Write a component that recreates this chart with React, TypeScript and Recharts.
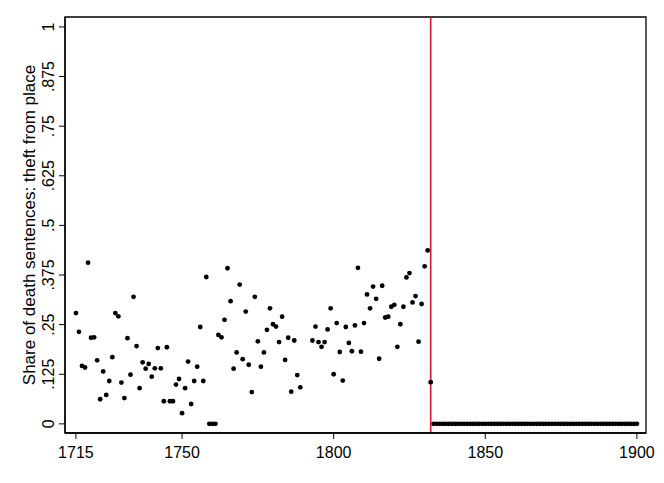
import {
  ScatterChart,
  Scatter,
  XAxis,
  YAxis,
  ReferenceLine,
  ReferenceArea,
} from "recharts";

// years with an observation (1790-1792 have none)
const years = [
  1715, 1716, 1717, 1718, 1719, 1720, 1721, 1722, 1723, 1724, 1725, 1726, 1727, 1728, 1729,
  1730, 1731, 1732, 1733, 1734, 1735, 1736, 1737, 1738, 1739, 1740, 1741, 1742, 1743, 1744,
  1745, 1746, 1747, 1748, 1749, 1750, 1751, 1752, 1753, 1754, 1755, 1756, 1757, 1758, 1759,
  1760, 1761, 1762, 1763, 1764, 1765, 1766, 1767, 1768, 1769, 1770, 1771, 1772, 1773, 1774,
  1775, 1776, 1777, 1778, 1779, 1780, 1781, 1782, 1783, 1784, 1785, 1786, 1787, 1788, 1789,
  1793, 1794, 1795, 1796, 1797, 1798, 1799, 1800, 1801, 1802, 1803, 1804, 1805, 1806, 1807,
  1808, 1809, 1810, 1811, 1812, 1813, 1814, 1815, 1816, 1817, 1818, 1819, 1820, 1821, 1822,
  1823, 1824, 1825, 1826, 1827, 1828, 1829, 1830, 1831, 1832, 1833, 1834, 1835, 1836, 1837,
  1838, 1839, 1840, 1841, 1842, 1843, 1844, 1845, 1846, 1847, 1848, 1849, 1850, 1851, 1852,
  1853, 1854, 1855, 1856, 1857, 1858, 1859, 1860, 1861, 1862, 1863, 1864, 1865, 1866, 1867,
  1868, 1869, 1870, 1871, 1872, 1873, 1874, 1875, 1876, 1877, 1878, 1879, 1880, 1881, 1882,
  1883, 1884, 1885, 1886, 1887, 1888, 1889, 1890, 1891, 1892, 1893, 1894, 1895, 1896, 1897,
  1898, 1899, 1900,
];

// share of death sentences for theft from place, same order as years
const shares = [
  0.279, 0.232, 0.146, 0.142, 0.406, 0.217, 0.218, 0.16, 0.062, 0.132, 0.073, 0.108, 0.168, 0.279, 0.271,
  0.104, 0.065, 0.216, 0.124, 0.32, 0.196, 0.09, 0.155, 0.139, 0.151, 0.119, 0.14, 0.191, 0.14, 0.057,
  0.193, 0.057, 0.057, 0.099, 0.113, 0.027, 0.09, 0.157, 0.05, 0.108, 0.144, 0.244, 0.108, 0.37, 0,
  0, 0, 0.224, 0.218, 0.262, 0.392, 0.309, 0.139, 0.18, 0.351, 0.163, 0.283, 0.149, 0.08, 0.32,
  0.208, 0.144, 0.18, 0.237, 0.291, 0.251, 0.245, 0.206, 0.27, 0.161, 0.217, 0.081, 0.21, 0.123, 0.092,
  0.21, 0.245, 0.206, 0.194, 0.206, 0.238, 0.291, 0.125, 0.254, 0.181, 0.109, 0.244, 0.204, 0.183, 0.248,
  0.393, 0.182, 0.254, 0.326, 0.291, 0.346, 0.315, 0.164, 0.348, 0.268, 0.27, 0.295, 0.3, 0.194, 0.251,
  0.295, 0.369, 0.38, 0.306, 0.322, 0.207, 0.302, 0.397, 0.437, 0.105, 0, 0, 0, 0, 0,
  0, 0, 0, 0, 0, 0, 0, 0, 0, 0, 0, 0, 0, 0, 0,
  0, 0, 0, 0, 0, 0, 0, 0, 0, 0, 0, 0, 0, 0, 0,
  0, 0, 0, 0, 0, 0, 0, 0, 0, 0, 0, 0, 0, 0, 0,
  0, 0, 0, 0, 0, 0, 0, 0, 0, 0, 0, 0, 0, 0, 0,
  0, 0, 0,
];

const xTicks = [1715, 1750, 1800, 1850, 1900];
const yTicks = [0, 0.125, 0.25, 0.375, 0.5, 0.625, 0.75, 0.875, 1];
const breakYear = 1832;

const FONT = "'Liberation Sans', Arial, Helvetica, sans-serif";
const X_DOMAIN = [1711.4, 1903];
const Y_DOMAIN = [-0.023, 1.025];

const fmtShare = (v: number) => (v === 0 || v === 1 ? String(v) : String(v).replace(/^0/, ""));

const YTick = (props: any) => {
  const { x, y, payload } = props;
  const tx = x - 3;
  return (
    <text
      x={tx}
      y={y}
      transform={`rotate(-90 ${tx} ${y})`}
      textAnchor="middle"
      fontFamily={FONT}
      fontSize={16}
      fill="#000"
    >
      {fmtShare(payload.value)}
    </text>
  );
};

const YTitle = (props: any) => {
  const { viewBox } = props;
  const tx = viewBox.x + 10;
  const ty = viewBox.y + viewBox.height / 2;
  return (
    <text
      x={tx}
      y={ty}
      transform={`rotate(-90 ${tx} ${ty})`}
      textAnchor="middle"
      fontFamily={FONT}
      fontSize={17}
      fill="#000"
    >
      Share of death sentences: theft from place
    </text>
  );
};

const Dot = (props: any) => <circle cx={props.cx} cy={props.cy} r={2.4} fill="#000" />;

export default function App() {
  const data = years.map((yr, i) => ({ year: yr, share: shares[i] }));

  return (
    <div style={{ position: "absolute", left: 0, top: 0, background: "#fff" }}>
      <ScatterChart width={664} height={483} margin={{ top: 17, right: 18, bottom: 0, left: 25 }}>
        <ReferenceArea
          x1={X_DOMAIN[0]}
          x2={X_DOMAIN[1]}
          y1={Y_DOMAIN[0]}
          y2={Y_DOMAIN[1]}
          fill="none"
          stroke="#000"
          strokeWidth={1.3}
          ifOverflow="visible"
        />
        <XAxis
          type="number"
          dataKey="year"
          domain={X_DOMAIN}
          ticks={xTicks}
          allowDataOverflow
          height={50}
          tickSize={6}
          tickMargin={8}
          stroke="#000"
          axisLine={{ stroke: "#000", strokeWidth: 1.3 }}
          tickLine={{ stroke: "#000" }}
          tick={{ fill: "#000", fontSize: 16, fontFamily: FONT }}
        />
        <YAxis
          type="number"
          dataKey="share"
          domain={Y_DOMAIN}
          ticks={yTicks}
          allowDataOverflow
          width={40}
          tickSize={6}
          tickMargin={2}
          axisLine={{ stroke: "#000", strokeWidth: 1.3 }}
          tickLine={{ stroke: "#000" }}
          tick={<YTick />}
          label={{ content: <YTitle /> }}
        />
        <ReferenceLine x={breakYear} stroke="#d4143c" strokeWidth={1.6} />
        <Scatter data={data} shape={<Dot />} isAnimationActive={false} />
      </ScatterChart>
    </div>
  );
}
